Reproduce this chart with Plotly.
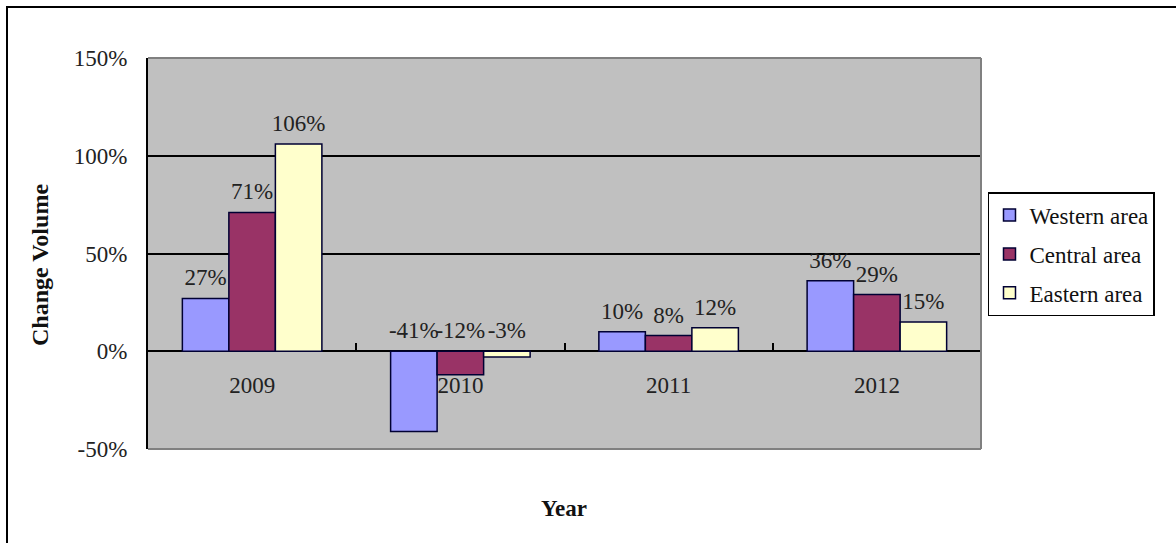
import plotly.graph_objects as go

# Year-on-year change by region
years = ["2009", "2010", "2011", "2012"]
western = [27, -41, 10, 36]
central = [71, -12, 8, 29]
eastern = [106, -3, 12, 15]

series = [
    ("Western area", western, "#9999FF"),
    ("Central area", central, "#993366"),
    ("Eastern area", eastern, "#FFFFCC"),
]

y_ticks = [-0.5, 0, 0.5, 1.0, 1.5]
y_tick_text = ["-50%", "0%", "50%", "100%", "150%"]

SERIF = "Liberation Serif"
FS = 23
W, H = 1176, 543
L, R, T, B = 148, 195, 58, 94

fig = go.Figure()

for i, (name, vals, color) in enumerate(series):
    fig.add_trace(go.Bar(
        x=years,
        y=[v / 100 for v in vals],
        name=name,
        legendgroup=name,
        marker=dict(color=color, line=dict(color="#000033", width=1.5)),
        offsetgroup=str(i),
        hoverinfo="skip",
    ))

# value labels sit above the bar top (or above the zero line for negatives)
for i, (name, vals, color) in enumerate(series):
    fig.add_trace(go.Scatter(
        x=years,
        y=[max(v, 0) / 100 for v in vals],
        text=[f"{v}%" for v in vals],
        mode="markers+text",
        marker=dict(size=10, color="rgba(0,0,0,0)"),
        textposition="top center",
        textfont=dict(family=SERIF, size=FS, color="#222222"),
        offsetgroup=str(i),
        showlegend=False,
        hoverinfo="skip",
        cliponaxis=False,
    ))

fig.update_layout(
    width=W,
    height=H,
    margin=dict(l=L, r=R, t=T, b=B),
    paper_bgcolor="white",
    plot_bgcolor="#C0C0C0",
    barmode="group",
    bargap=0.33,
    bargroupgap=0,
    scattermode="group",
    scattergap=0.33,
    font=dict(family=SERIF, size=FS, color="#222222"),
    showlegend=True,
    legend=dict(
        x=1.0084,
        y=0.657,
        xanchor="left",
        yanchor="top",
        bgcolor="white",
        bordercolor="#000000",
        borderwidth=1.5,
        font=dict(family=SERIF, size=FS, color="#111111"),
        itemwidth=30,
        tracegroupgap=6,
    ),
    xaxis=dict(
        type="category",
        anchor="free",
        position=0.25,
        showline=False,
        showgrid=False,
        ticks="inside",
        tickson="boundaries",
        ticklen=8,
        tickwidth=1.5,
        tickcolor="#000000",
        ticklabelstandoff=18,
        tickfont=dict(family=SERIF, size=FS, color="#222222"),
        zeroline=False,
    ),
    yaxis=dict(
        range=[-0.5, 1.5],
        tickvals=y_ticks,
        ticktext=y_tick_text,
        showgrid=True,
        gridcolor="#000000",
        gridwidth=2,
        zeroline=True,
        zerolinecolor="#000000",
        zerolinewidth=2,
        showline=True,
        linecolor="#000000",
        linewidth=2,
        ticks="inside",
        ticklen=6,
        tickcolor="#000000",
        ticklabelstandoff=14,
        tickfont=dict(family=SERIF, size=FS, color="#222222"),
    ),
)

pw = W - L - R
ph = H - T - B

def px_x(p):
    return (p - L) / pw

def px_y(p):
    return (H - B - p) / ph

# grey border round the plot area (top, right and bottom edges)
for x0, x1, y0, y1 in [(0, 1, 1, 1), (1, 1, 0, 1), (0, 1, 0, 0)]:
    fig.add_shape(type="line", xref="paper", yref="paper",
                  x0=x0, x1=x1, y0=y0, y1=y1,
                  line=dict(color="#808080", width=2), layer="above")

# outer chart frame
fig.add_shape(type="rect", xref="paper", yref="paper",
              x0=px_x(7), x1=px_x(W + 20), y0=px_y(H + 20), y1=px_y(7),
              line=dict(color="#000000", width=2), fillcolor="rgba(0,0,0,0)",
              layer="above")

fig.add_annotation(
    text="<b>Change Volume</b>", textangle=-90,
    xref="paper", yref="paper", x=px_x(40), y=px_y(265),
    xanchor="center", yanchor="middle", showarrow=False,
    font=dict(family=SERIF, size=24, color="#111111"),
)
fig.add_annotation(
    text="<b>Year</b>",
    xref="paper", yref="paper", x=px_x(564), y=px_y(508),
    xanchor="center", yanchor="middle", showarrow=False,
    font=dict(family=SERIF, size=23, color="#111111"),
)

fig.write_html("out.html")
